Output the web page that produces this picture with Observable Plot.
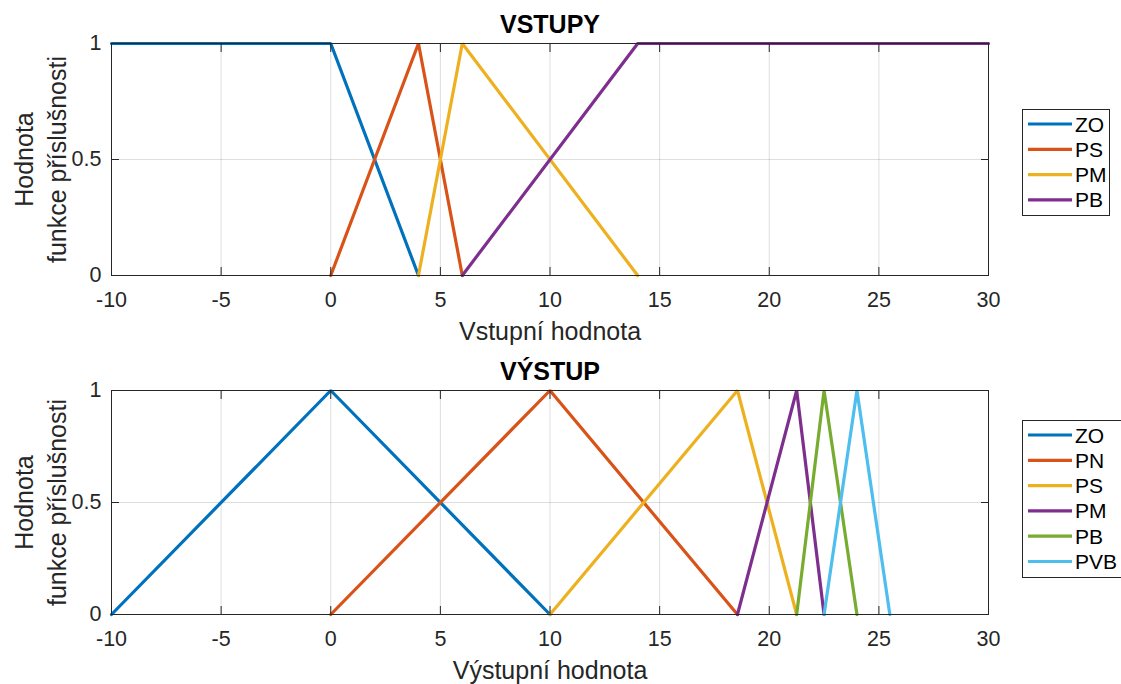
<!DOCTYPE html>
<html><head><meta charset="utf-8">
<script src="https://cdn.jsdelivr.net/npm/d3@7"></script>
<script src="https://cdn.jsdelivr.net/npm/@observablehq/plot@0.6"></script>
<style>
body{margin:0;background:#fff;font-family:"Liberation Sans",Arial,sans-serif;}
#wrap{position:relative;width:1121px;height:684px;overflow:hidden;}
#wrap svg{position:absolute;left:0;overflow:visible;}
.legend{position:absolute;border:1px solid #262626;background:#fff;}
</style></head><body>
<div id="wrap"></div>
<script>
// ---- DATA ----
const xTicks = [-10, -5, 0, 5, 10, 15, 20, 25, 30];
const yTicks = [0, 0.5, 1];
const yLabel1 = "Hodnota";
const yLabel2 = "funkce příslušnosti";

const inTitle = "VSTUPY";
const inXLabel = "Vstupní hodnota";
const inNames = ["ZO", "PS", "PM", "PB"];
const inColors = ["#0072BD", "#D95319", "#EDB120", "#7E2F8E"];
const inZO = [[-10, 1], [0, 1], [4, 0]];
const inPS = [[0, 0], [4, 1], [6, 0]];
const inPM = [[4, 0], [6, 1], [14, 0]];
const inPB = [[6, 0], [14, 1], [30, 1]];

const outTitle = "VÝSTUP";
const outXLabel = "Výstupní hodnota";
const outNames = ["ZO", "PN", "PS", "PM", "PB", "PVB"];
const outColors = ["#0072BD", "#D95319", "#EDB120", "#7E2F8E", "#77AC30", "#4DBEEE"];
const outZO = [[-10, 0], [0, 1], [10, 0]];
const outPN = [[0, 0], [10, 1], [18.55, 0]];
const outPS = [[10, 0], [18.55, 1], [21.25, 0]];
const outPM = [[18.55, 0], [21.25, 1], [22.5, 0]];
const outPB = [[21.25, 0], [22.5, 1], [24, 0]];
const outPVB = [[22.5, 0], [24, 1], [25.5, 0]];

// ---- BUILD ----
function table(names, series) {
  return names.flatMap((n, i) => series[i].map(([x, y]) => ({name: n, x, y})));
}

const wrap = document.getElementById("wrap");
const FONT = "'Liberation Sans', Arial, sans-serif";
const INK = "#262626";
const TICKFS = 21.5;
const LABFS = 25;

function chart({data, names, colors, title, xlabel, top, height, mTop, mBottom}) {
  const svg = Plot.plot({
    width: 1010, height,
    marginLeft: 111, marginRight: 22, marginTop: mTop, marginBottom: mBottom,
    style: {fontFamily: FONT, fontSize: TICKFS + "px", color: INK, background: "transparent", overflow: "visible"},
    x: {domain: [-10, 30], ticks: xTicks},
    y: {domain: [0, 1], ticks: yTicks},
    color: {domain: names, range: colors},
    marks: [
      Plot.gridX(xTicks, {stroke: "#000", strokeOpacity: 0.13}),
      Plot.gridY(yTicks, {stroke: "#000", strokeOpacity: 0.13}),
      Plot.line(data, {x: "x", y: "y", z: "name", stroke: "name", strokeWidth: 3.2, strokeLinejoin: "miter"}),
      Plot.axisX(xTicks, {anchor: "bottom", tickSize: 0, tickPadding: 16, label: null, fontSize: TICKFS, fill: INK, tickFormat: d => d}),
      Plot.axisX(xTicks, {anchor: "bottom", tickSize: -8, label: null, tickFormat: () => "", stroke: INK}),
      Plot.axisX(xTicks, {anchor: "top", tickSize: -8, label: null, tickFormat: () => "", stroke: INK}),
      Plot.axisY(yTicks, {anchor: "left", tickSize: 0, tickPadding: 10, label: null, fontSize: TICKFS, fill: INK, tickFormat: d => d}),
      Plot.axisY(yTicks, {anchor: "left", tickSize: -8, label: null, tickFormat: () => "", stroke: INK}),
      Plot.axisY(yTicks, {anchor: "right", tickSize: -8, label: null, tickFormat: () => "", stroke: INK}),
      Plot.frame({stroke: INK, strokeWidth: 1}),
      Plot.text([title], {frameAnchor: "top", dy: -11, text: d => d, fontSize: LABFS, fontWeight: "bold", fill: "#000", lineAnchor: "bottom"}),
      Plot.text([xlabel], {frameAnchor: "bottom", dy: 64, text: d => d, fontSize: LABFS, fill: INK, lineAnchor: "bottom"}),
      Plot.text([yLabel1], {frameAnchor: "left", dx: -79, text: d => d, rotate: -90, fontSize: LABFS, fill: INK, lineAnchor: "bottom", textAnchor: "middle"}),
      Plot.text([yLabel2], {frameAnchor: "left", dx: -46, text: d => d, rotate: -90, fontSize: LABFS, fill: INK, lineAnchor: "bottom", textAnchor: "middle"})
    ]
  });
  svg.style.top = top + "px";
  wrap.appendChild(svg);
}

function legend(names, colors, left, top, width) {
  const step = 25.3;
  const h = 15 + (names.length - 1) * step + 14;
  const s = d3.create("svg").attr("width", width).attr("height", h)
    .attr("class", "legend").style("left", left + "px").style("top", top + "px");
  names.forEach((n, i) => {
    const y = 14 + i * step;
    s.append("line").attr("x1", 5).attr("x2", 49).attr("y1", y).attr("y2", y)
      .attr("stroke", colors[i]).attr("stroke-width", 3.2);
    s.append("text").attr("x", 52).attr("y", y).attr("dy", "0.36em")
      .attr("font-family", FONT).attr("font-size", 21).attr("fill", "#000").text(n);
  });
  wrap.appendChild(s.node());
}

chart({data: table(inNames, [inZO, inPS, inPM, inPB]), names: inNames, colors: inColors,
  title: inTitle, xlabel: inXLabel, top: 0, height: 342, mTop: 43, mBottom: 67});
chart({data: table(outNames, [outZO, outPN, outPS, outPM, outPB, outPVB]), names: outNames, colors: outColors,
  title: outTitle, xlabel: outXLabel, top: 342, height: 342, mTop: 48, mBottom: 70});
legend(inNames, inColors, 1022, 109, 86);
legend(outNames, outColors, 1022, 420, 98);
</script>
</body></html>
